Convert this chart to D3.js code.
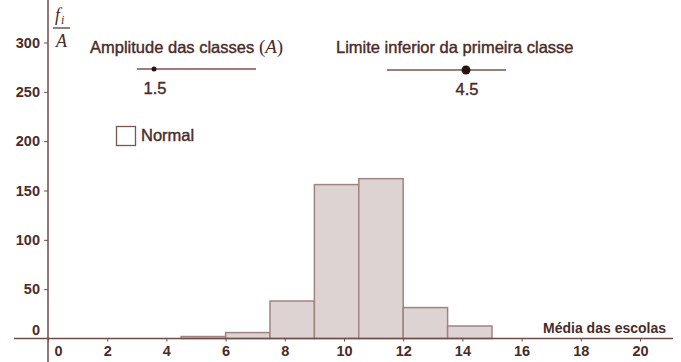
<!DOCTYPE html>
<head>
  <title>Histograma</title>
  <script src="https://cdn.jsdelivr.net/npm/d3@7"></script>
  <style>
    body { margin: 0; background: #fff; }
    svg { display: block; font-family: "Liberation Sans", Arial, sans-serif; }
  </style>
</head>
<body>
<div id="container"></div>
<script>
// Dados
const amplitude = 1.5;
const limiteInferior = 4.5;
const frequencias = [3, 9, 57, 234, 243, 47, 19]; // f_i por classe
const xTicks = [0, 2, 4, 6, 8, 10, 12, 14, 16, 18, 20];
const yTicks = [0, 50, 100, 150, 200, 250, 300];

const classes = frequencias.map((f, i) => ({
  a: limiteInferior + i * amplitude,
  b: limiteInferior + (i + 1) * amplitude,
  h: f / amplitude
}));

const W = 681, H = 362;
const corEixo = "#6e4d48", corTexto = "#4a2b28";

const svg = d3.select("#container").append("svg")
  .attr("width", W).attr("height", H);

const x = d3.scaleLinear().domain([0, 20]).range([48, 640]);
const y = d3.scaleLinear().domain([0, 300]).range([338.5, 42.5]);

// barras
svg.append("g").selectAll("rect")
  .data(classes)
  .enter().append("rect")
  .attr("x", d => x(d.a))
  .attr("y", d => y(d.h))
  .attr("width", d => x(d.b) - x(d.a))
  .attr("height", d => y(0) - y(d.h))
  .attr("fill", "#ddd3d3")
  .attr("stroke", "#a08482")
  .attr("stroke-width", 1.5);

// linhas dos eixos
svg.append("line").attr("x1", 14).attr("x2", 673)
  .attr("y1", y(0)).attr("y2", y(0))
  .attr("stroke", corEixo).attr("stroke-width", 1.5);
svg.append("line").attr("x1", x(0)).attr("x2", x(0))
  .attr("y1", 0).attr("y2", H)
  .attr("stroke", corEixo).attr("stroke-width", 1.5);

// eixo X
const gx = svg.append("g")
  .attr("transform", `translate(0,${y(0)})`)
  .call(d3.axisBottom(x).tickValues(xTicks).tickSize(3).tickPadding(4));
gx.select(".domain").remove();
gx.selectAll("line").attr("stroke", corEixo);
gx.selectAll("text")
  .attr("fill", corTexto).style("font-size", "14.5px").style("font-weight", "bold")
  .attr("dx", d => d === 0 ? 10 : 0);

// eixo Y
const gy = svg.append("g")
  .attr("transform", `translate(${x(0)},0)`)
  .call(d3.axisLeft(y).tickValues(yTicks).tickSize(4).tickPadding(4));
gy.select(".domain").remove();
gy.selectAll("line").attr("stroke", corEixo).attr("display", d => d === 0 ? "none" : null);
gy.selectAll("text")
  .attr("fill", corTexto).style("font-size", "14.5px").style("font-weight", "bold")
  .attr("dy", d => d === 0 ? "-0.3em" : "0.32em");

// rótulo do eixo Y: f_i / A
const frac = svg.append("g").attr("fill", corTexto)
  .style("font-family", "'Liberation Serif', 'DejaVu Serif', serif").style("font-style", "italic");
frac.append("text").attr("x", 55).attr("y", 21).style("font-size", "18px").text("f");
frac.append("text").attr("x", 61).attr("y", 24).style("font-size", "12px").text("i");
frac.append("line").attr("x1", 53).attr("x2", 70).attr("y1", 28).attr("y2", 28)
  .attr("stroke", corTexto).attr("stroke-width", 1.2);
frac.append("text").attr("x", 61.5).attr("y", 47).attr("text-anchor", "middle")
  .style("font-size", "18px").text("A");

// rótulo do eixo X
svg.append("text").attr("x", 666).attr("y", 333).attr("text-anchor", "end")
  .attr("fill", corTexto).style("font-size", "14px").style("font-weight", "bold")
  .text("Média das escolas");

// controles deslizantes
function slider(x0, x1, yy, dom, valor, r, titulo, tx, ty, simbolo) {
  const s = d3.scaleLinear().domain(dom).range([x0, x1]);
  svg.append("line").attr("x1", x0).attr("x2", x1).attr("y1", yy).attr("y2", yy)
    .attr("stroke", "#7a5550").attr("stroke-width", 1.5);
  svg.append("circle").attr("cx", s(valor)).attr("cy", yy).attr("r", r).attr("fill", "#2a1210");
  svg.append("text").attr("x", s(valor) + 1).attr("y", yy + 25).attr("text-anchor", "middle")
    .attr("fill", corTexto).attr("stroke", corTexto).attr("stroke-width", 0.4)
    .style("font-size", "16.5px").text(valor);
  const t = svg.append("text").attr("x", tx).attr("y", ty).attr("fill", corTexto)
    .style("font-size", "16.5px");
  t.append("tspan").attr("stroke", corTexto).attr("stroke-width", 0.4).text(titulo);
  if (simbolo) {
    t.append("tspan").style("font-family", "'Liberation Serif', 'DejaVu Serif', serif")
      .style("font-size", "19px").text(" (").append("tspan").style("font-style", "italic").text("A");
    t.append("tspan").style("font-family", "'Liberation Serif', 'DejaVu Serif', serif")
      .style("font-size", "19px").text(")");
  }
}
slider(137, 256, 69, [0.5, 7.5], amplitude, 2.5, "Amplitude das classes", 90, 53, true);
slider(387, 506, 70, [0, 6.78], limiteInferior, 4.5, "Limite inferior da primeira classe", 336, 53, false);

// caixa "Normal"
svg.append("rect").attr("x", 116.5).attr("y", 126.5).attr("width", 19).attr("height", 19)
  .attr("fill", "#fff").attr("stroke", "#7a5550").attr("stroke-width", 1.3);
svg.append("text").attr("x", 141).attr("y", 141).attr("fill", corTexto)
  .attr("stroke", corTexto).attr("stroke-width", 0.4)
  .style("font-size", "16.5px").text("Normal");
</script>
</body>
